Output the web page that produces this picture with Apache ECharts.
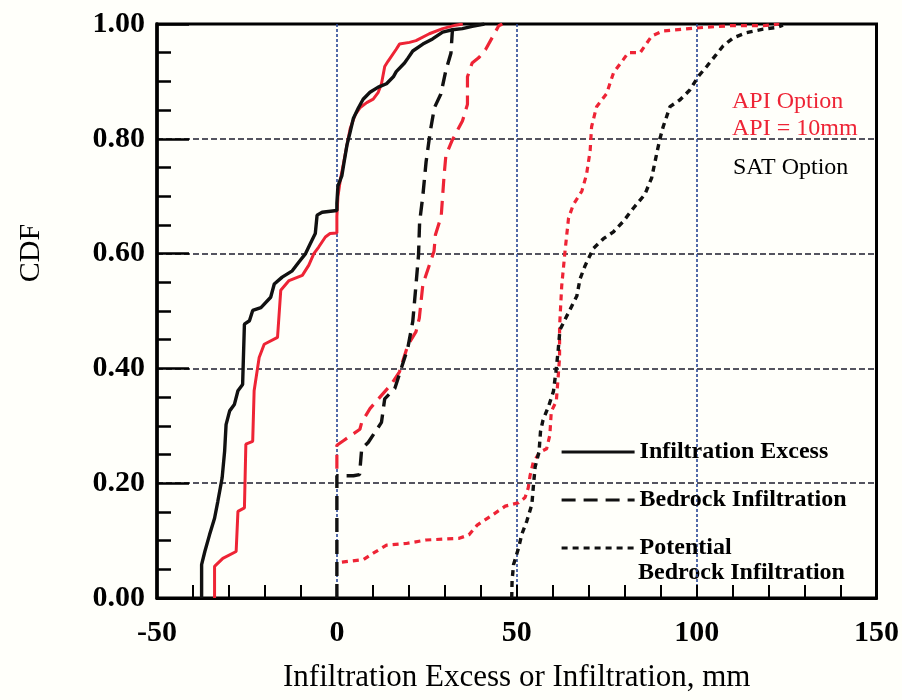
<!DOCTYPE html>
<html>
<head>
<meta charset="utf-8">
<script src="https://cdn.jsdelivr.net/npm/echarts@6/dist/echarts.min.js"></script>
<style>
html,body{margin:0;padding:0;background:#fffffa;}
#chart{width:902px;height:700px;}
</style>
</head>
<body>
<div id="chart"></div>
<script>
// ---- data (x = mm, y = CDF) ----
const xTicks = [-50, 0, 50, 100, 150];
const yTicks = [0, 0.2, 0.4, 0.6, 0.8, 1.0];

const satExcess = [[-37.6,0],[-37.6,0.058],[-36.7,0.081],[-35.4,0.110],[-34.0,0.139],[-33.1,0.168],[-31.9,0.209],[-31.2,0.256],[-30.8,0.302],[-29.8,0.326],[-28.5,0.337],[-27.5,0.361],[-26.2,0.372],[-25.7,0.477],[-24.3,0.483],[-23.4,0.501],[-21.1,0.506],[-18.4,0.524],[-17.4,0.547],[-15.2,0.559],[-12.4,0.570],[-10.6,0.585],[-8.7,0.600],[-7.4,0.617],[-6.0,0.635],[-5.5,0.667],[-4.1,0.672],[0,0.675],[0,0.688],[0.3,0.718],[1.4,0.736],[2.0,0.759],[2.8,0.789],[3.7,0.812],[4.6,0.836],[6.0,0.854],[7.3,0.869],[9.2,0.881],[11.5,0.890],[13.8,0.896],[15.7,0.908],[16.5,0.917],[18.8,0.932],[19.8,0.941],[21.1,0.953],[23.9,0.965],[26.6,0.974],[29.4,0.986],[32.1,0.990],[34.9,0.992],[37.6,0.996],[41,1.0]];

const apiExcess = [[-34.0,0],[-34.0,0.055],[-31.7,0.069],[-28.0,0.081],[-27.5,0.151],[-25.7,0.157],[-25.3,0.268],[-23.4,0.273],[-23.0,0.361],[-21.6,0.419],[-20.2,0.442],[-16.5,0.454],[-15.6,0.536],[-13.3,0.553],[-9.6,0.562],[-7.8,0.580],[-6.4,0.600],[-5.1,0.611],[-3.2,0.629],[-1.9,0.635],[0,0.636],[0,0.665],[0.3,0.700],[1.0,0.730],[1.9,0.759],[2.8,0.789],[3.7,0.818],[5.1,0.842],[6.4,0.854],[8.3,0.863],[10.1,0.869],[11.5,0.881],[12.4,0.896],[13.3,0.926],[14.2,0.935],[16.5,0.956],[17.4,0.965],[20.2,0.968],[22.0,0.971],[25.7,0.983],[29.4,0.992],[33.0,0.998],[35,1.0]];

const satBedrock = [[0,0],[0,0.213],[4.6,0.213],[6.3,0.215],[6.9,0.260],[8.7,0.271],[12.4,0.306],[13.3,0.347],[16.1,0.365],[17.9,0.400],[19.7,0.435],[21.1,0.482],[22.0,0.546],[22.7,0.598],[23.0,0.655],[23.9,0.701],[24.8,0.760],[25.7,0.801],[26.1,0.818],[27.1,0.854],[28.9,0.878],[30.3,0.919],[31.7,0.949],[32.1,0.988],[33,1.0]];

const apiBedrock = [[0,0.225],[0,0.266],[1.8,0.274],[6.4,0.294],[6.9,0.306],[9.2,0.330],[12.4,0.353],[15.2,0.373],[17.4,0.394],[19.7,0.440],[22.0,0.464],[22.9,0.487],[23.9,0.546],[24.8,0.563],[27.0,0.604],[27.4,0.633],[29.0,0.665],[29.8,0.736],[30.3,0.771],[32.1,0.798],[34.9,0.831],[36.3,0.860],[36.3,0.908],[37.6,0.932],[39.4,0.941],[41.3,0.955],[45.0,0.997],[46,1.0]];

const apiPotential = [[1.4,0.0625],[7.4,0.067],[10.1,0.078],[13.8,0.092],[19.3,0.095],[24.8,0.101],[34.0,0.104],[36.7,0.110],[39.0,0.127],[43.1,0.144],[46.8,0.160],[50.5,0.166],[52.3,0.175],[53.2,0.192],[53.7,0.213],[54.6,0.237],[56.4,0.254],[58.3,0.260],[59.2,0.284],[59.6,0.325],[61.0,0.343],[61.5,0.384],[61.9,0.419],[61.9,0.472],[62.2,0.508],[62.5,0.544],[63.4,0.603],[64.4,0.662],[65.7,0.685],[68.1,0.709],[69.4,0.738],[70.4,0.779],[70.8,0.821],[72.2,0.856],[75.0,0.879],[76.9,0.915],[79.6,0.938],[81.0,0.950],[84.3,0.950],[87.5,0.979],[90.7,0.988],[96.3,0.991],[101.9,0.994],[109.3,0.997],[118.5,0.997],[123,1.0]];

const satPotential = [[48.6,0],[48.7,0.030],[49.1,0.058],[50.5,0.087],[51.4,0.111],[52.8,0.134],[54.2,0.163],[54.6,0.193],[55.1,0.228],[56.2,0.255],[56.6,0.290],[57.3,0.310],[58.9,0.335],[60.2,0.360],[60.9,0.395],[61.5,0.430],[62.0,0.467],[63.8,0.490],[66.7,0.526],[67.6,0.556],[69.0,0.579],[71.3,0.609],[74.1,0.626],[76.9,0.638],[79.6,0.656],[82.4,0.679],[85.6,0.703],[87.5,0.732],[88.9,0.774],[89.8,0.800],[90.7,0.821],[92.6,0.856],[95.4,0.868],[98.1,0.885],[100.5,0.909],[102.8,0.926],[105.1,0.944],[107.4,0.962],[110.2,0.976],[113.9,0.985],[118.5,0.991],[122.2,0.994],[124,0.998]];

const legendNames = ['Infiltration Excess', 'Bedrock Infiltration', 'Potential'];
const potentialSecondLine = 'Bedrock Infiltration';
const apiLabel1 = 'API Option';
const apiLabel2 = 'API = 10mm';
const satLabel = 'SAT Option';
const xTitle = 'Infiltration Excess or Infiltration, mm';
const yTitle = 'CDF';

// ---- styling ----
const RED = '#ee2435';
const BLK = '#111111';
const SERIF = '"Liberation Serif", "Times New Roman", serif';

function line(name, data, color, width, type, z) {
  return {
    type: 'line', name: name, data: data, symbol: 'none', z: z,
    lineStyle: { color: color, width: width, type: type },
    itemStyle: { color: color },
    emphasis: { disabled: true }
  };
}

const chart = echarts.init(document.getElementById('chart'), null, { renderer: 'canvas' });
chart.setOption({
  animation: false,
  backgroundColor: '#fffffa',
  grid: { left: 157, top: 24, width: 723, height: 574, show: true, borderColor: '#000', borderWidth: 3, backgroundColor: 'transparent' },
  xAxis: {
    type: 'value', min: xTicks[0], max: xTicks[xTicks.length - 1], interval: 50,
    axisLine: { show: true, onZero: false, lineStyle: { color: '#000', width: 3 } },
    axisTick: { show: true, inside: true, length: 13, lineStyle: { color: '#000', width: 2 } },
    minorTick: { show: true, splitNumber: 5, length: 13, lineStyle: { color: '#000', width: 2 } },
    splitLine: { show: true, showMinLine: false, showMaxLine: false, lineStyle: { color: '#2a4796', width: 1.6, type: [3, 2] } },
    axisLabel: { color: '#000', fontFamily: SERIF, fontWeight: 'bold', fontSize: 30, margin: 20 },
    name: xTitle, nameLocation: 'middle', nameGap: 64,
    nameTextStyle: { color: '#000', fontFamily: SERIF, fontSize: 31 }
  },
  yAxis: {
    type: 'value', min: 0, max: 1, interval: 0.2,
    axisLine: { show: true, onZero: false, lineStyle: { color: '#000', width: 3.5 } },
    axisTick: { show: true, inside: true, length: 32, lineStyle: { color: '#000', width: 2.5 } },
    minorTick: { show: true, splitNumber: 4, length: 14, lineStyle: { color: '#000', width: 2.5 } },
    splitLine: { show: true, showMinLine: false, showMaxLine: false, lineStyle: { color: '#1c1c2c', width: 1.7, type: [6, 3] } },
    axisLabel: { color: '#000', fontFamily: SERIF, fontWeight: 'bold', fontSize: 30, margin: 12, formatter: v => v.toFixed(2) }
  },
  legend: {
    data: legendNames, orient: 'vertical', left: 560, top: 440, padding: 0, itemWidth: 73, itemHeight: 14, itemGap: 24,
    selectedMode: false,
    itemStyle: { opacity: 0 },
    lineStyle: { width: 3.2 },
    textStyle: { color: '#000', fontFamily: SERIF, fontWeight: 'bold', fontSize: 24 }
  },
  graphic: [
    { type: 'text', x: 638, y: 573, style: { text: potentialSecondLine, fill: '#000', font: 'bold 24px ' + SERIF, textVerticalAlign: 'middle' } },
    { type: 'text', x: 732, y: 102, style: { text: apiLabel1, fill: RED, font: '24px ' + SERIF, textVerticalAlign: 'middle' } },
    { type: 'text', x: 732, y: 129, style: { text: apiLabel2, fill: RED, font: '24px ' + SERIF, textVerticalAlign: 'middle' } },
    { type: 'text', x: 733, y: 168, style: { text: satLabel, fill: '#000', font: '24px ' + SERIF, textVerticalAlign: 'middle' } },
    { type: 'text', x: 31, y: 253, rotation: Math.PI / 2, style: { text: yTitle, fill: '#000', font: '30px ' + SERIF, textAlign: 'center', textVerticalAlign: 'middle' } }
  ],
  series: [
    line('API Infiltration Excess', apiExcess, RED, 3, 'solid', 2),
    line('API Bedrock Infiltration', apiBedrock, RED, 3.2, [14, 8], 2),
    line('API Potential', apiPotential, RED, 3.2, [6, 5], 2),
    line(legendNames[0], satExcess, BLK, 3.4, 'solid', 3),
    line(legendNames[1], satBedrock, BLK, 3.4, [14, 8], 3),
    line(legendNames[2], satPotential, BLK, 3.4, [6, 5], 3)
  ]
});
</script>
</body>
</html>
